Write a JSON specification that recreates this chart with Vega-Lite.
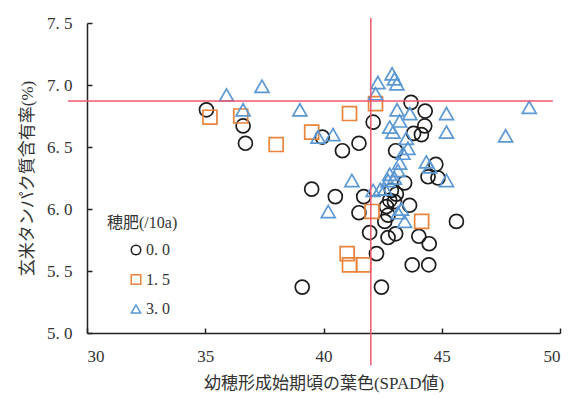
{
  "$schema": "https://vega.github.io/schema/vega-lite/v6.json",
  "width": 473,
  "height": 310,
  "autosize": {"type": "none"},
  "padding": {"left": 87, "top": 23, "right": 21, "bottom": 67},
  "background": "white",
  "config": {
    "view": {"stroke": null},
    "font": "Liberation Serif, Noto Sans CJK JP",
    "axis": {
      "grid": false,
      "domainColor": "#222222",
      "domainWidth": 1.5,
      "tickColor": "#222222",
      "tickWidth": 1.5,
      "tickSize": -5,
      "labelFont": "Liberation Serif, Noto Sans CJK JP",
      "labelFontSize": 17,
      "labelColor": "#333333",
      "titleFont": "Liberation Serif, Noto Sans CJK JP",
      "titleFontSize": 17,
      "titleFontWeight": "normal",
      "titleColor": "#333333"
    },
    "legend": {
      "titleFont": "Liberation Serif, Noto Sans CJK JP",
      "labelFont": "Liberation Serif, Noto Sans CJK JP",
      "titleFontSize": 16,
      "titleFontWeight": "normal",
      "titleColor": "#333333",
      "titlePadding": 11,
      "labelFontSize": 16,
      "labelColor": "#333333",
      "labelOffset": 2,
      "symbolOffset": 21,
      "rowPadding": 13.5,
      "symbolStrokeWidth": 1.5,
      "symbolSize": 90
    }
  },
  "layer": [
    {
      "data": {
        "values": [
          {"spad": 35.05, "protein": 6.80, "hiryo": "0.0"},
          {"spad": 36.6, "protein": 6.67, "hiryo": "0.0"},
          {"spad": 36.7, "protein": 6.53, "hiryo": "0.0"},
          {"spad": 39.95, "protein": 6.58, "hiryo": "0.0"},
          {"spad": 40.8, "protein": 6.47, "hiryo": "0.0"},
          {"spad": 41.5, "protein": 6.53, "hiryo": "0.0"},
          {"spad": 42.1, "protein": 6.70, "hiryo": "0.0"},
          {"spad": 43.7, "protein": 6.86, "hiryo": "0.0"},
          {"spad": 44.3, "protein": 6.79, "hiryo": "0.0"},
          {"spad": 44.28, "protein": 6.67, "hiryo": "0.0"},
          {"spad": 43.81, "protein": 6.61, "hiryo": "0.0"},
          {"spad": 44.14, "protein": 6.60, "hiryo": "0.0"},
          {"spad": 43.05, "protein": 6.47, "hiryo": "0.0"},
          {"spad": 44.75, "protein": 6.36, "hiryo": "0.0"},
          {"spad": 44.42, "protein": 6.26, "hiryo": "0.0"},
          {"spad": 44.84, "protein": 6.25, "hiryo": "0.0"},
          {"spad": 43.43, "protein": 6.21, "hiryo": "0.0"},
          {"spad": 39.5, "protein": 6.16, "hiryo": "0.0"},
          {"spad": 40.5, "protein": 6.10, "hiryo": "0.0"},
          {"spad": 41.7, "protein": 6.10, "hiryo": "0.0"},
          {"spad": 41.5, "protein": 5.97, "hiryo": "0.0"},
          {"spad": 42.87, "protein": 6.15, "hiryo": "0.0"},
          {"spad": 43.08, "protein": 6.12, "hiryo": "0.0"},
          {"spad": 42.8, "protein": 6.07, "hiryo": "0.0"},
          {"spad": 43.0, "protein": 6.06, "hiryo": "0.0"},
          {"spad": 42.66, "protein": 6.02, "hiryo": "0.0"},
          {"spad": 43.64, "protein": 6.03, "hiryo": "0.0"},
          {"spad": 42.73, "protein": 5.95, "hiryo": "0.0"},
          {"spad": 42.59, "protein": 5.90, "hiryo": "0.0"},
          {"spad": 45.62, "protein": 5.90, "hiryo": "0.0"},
          {"spad": 41.95, "protein": 5.81, "hiryo": "0.0"},
          {"spad": 42.73, "protein": 5.77, "hiryo": "0.0"},
          {"spad": 43.05, "protein": 5.80, "hiryo": "0.0"},
          {"spad": 44.03, "protein": 5.78, "hiryo": "0.0"},
          {"spad": 44.47, "protein": 5.72, "hiryo": "0.0"},
          {"spad": 42.24, "protein": 5.64, "hiryo": "0.0"},
          {"spad": 43.75, "protein": 5.55, "hiryo": "0.0"},
          {"spad": 44.45, "protein": 5.55, "hiryo": "0.0"},
          {"spad": 39.1, "protein": 5.37, "hiryo": "0.0"},
          {"spad": 42.45, "protein": 5.37, "hiryo": "0.0"},
          {"spad": 35.2, "protein": 6.74, "hiryo": "1.5"},
          {"spad": 36.5, "protein": 6.75, "hiryo": "1.5"},
          {"spad": 38.0, "protein": 6.52, "hiryo": "1.5"},
          {"spad": 39.5, "protein": 6.62, "hiryo": "1.5"},
          {"spad": 41.1, "protein": 6.77, "hiryo": "1.5"},
          {"spad": 42.2, "protein": 6.85, "hiryo": "1.5"},
          {"spad": 42.05, "protein": 5.98, "hiryo": "1.5"},
          {"spad": 44.15, "protein": 5.90, "hiryo": "1.5"},
          {"spad": 41.0, "protein": 5.64, "hiryo": "1.5"},
          {"spad": 41.1, "protein": 5.55, "hiryo": "1.5"},
          {"spad": 41.7, "protein": 5.55, "hiryo": "1.5"},
          {"spad": 35.9, "protein": 6.92, "hiryo": "3.0"},
          {"spad": 37.4, "protein": 6.99, "hiryo": "3.0"},
          {"spad": 36.6, "protein": 6.80, "hiryo": "3.0"},
          {"spad": 39.0, "protein": 6.80, "hiryo": "3.0"},
          {"spad": 39.77, "protein": 6.58, "hiryo": "3.0"},
          {"spad": 40.4, "protein": 6.60, "hiryo": "3.0"},
          {"spad": 42.3, "protein": 7.02, "hiryo": "3.0"},
          {"spad": 42.2, "protein": 6.93, "hiryo": "3.0"},
          {"spad": 42.9, "protein": 7.09, "hiryo": "3.0"},
          {"spad": 43.0, "protein": 7.05, "hiryo": "3.0"},
          {"spad": 43.1, "protein": 7.01, "hiryo": "3.0"},
          {"spad": 43.11, "protein": 6.80, "hiryo": "3.0"},
          {"spad": 43.65, "protein": 6.77, "hiryo": "3.0"},
          {"spad": 43.22, "protein": 6.71, "hiryo": "3.0"},
          {"spad": 42.8, "protein": 6.66, "hiryo": "3.0"},
          {"spad": 42.94, "protein": 6.62, "hiryo": "3.0"},
          {"spad": 43.5, "protein": 6.57, "hiryo": "3.0"},
          {"spad": 43.57, "protein": 6.49, "hiryo": "3.0"},
          {"spad": 43.36, "protein": 6.45, "hiryo": "3.0"},
          {"spad": 43.22, "protein": 6.37, "hiryo": "3.0"},
          {"spad": 43.15, "protein": 6.31, "hiryo": "3.0"},
          {"spad": 42.8, "protein": 6.28, "hiryo": "3.0"},
          {"spad": 42.73, "protein": 6.23, "hiryo": "3.0"},
          {"spad": 43.0, "protein": 6.25, "hiryo": "3.0"},
          {"spad": 44.35, "protein": 6.38, "hiryo": "3.0"},
          {"spad": 44.49, "protein": 6.34, "hiryo": "3.0"},
          {"spad": 45.2, "protein": 6.23, "hiryo": "3.0"},
          {"spad": 45.2, "protein": 6.77, "hiryo": "3.0"},
          {"spad": 45.2, "protein": 6.62, "hiryo": "3.0"},
          {"spad": 48.7, "protein": 6.82, "hiryo": "3.0"},
          {"spad": 47.7, "protein": 6.59, "hiryo": "3.0"},
          {"spad": 41.2, "protein": 6.23, "hiryo": "3.0"},
          {"spad": 40.2, "protein": 5.98, "hiryo": "3.0"},
          {"spad": 42.1, "protein": 6.15, "hiryo": "3.0"},
          {"spad": 42.4, "protein": 6.16, "hiryo": "3.0"},
          {"spad": 42.6, "protein": 6.16, "hiryo": "3.0"},
          {"spad": 43.3, "protein": 6.00, "hiryo": "3.0"},
          {"spad": 43.15, "protein": 5.97, "hiryo": "3.0"},
          {"spad": 43.43, "protein": 5.90, "hiryo": "3.0"}
        ]
      },
      "mark": {"type": "point", "filled": false, "size": 195, "strokeWidth": 1.7, "opacity": 1},
      "encoding": {
        "x": {
          "field": "spad",
          "type": "quantitative",
          "scale": {"domain": [30, 50], "nice": false, "zero": false},
          "axis": {
            "title": "幼穂形成始期頃の葉色(SPAD値)",
            "values": [30, 35, 40, 45, 50],
            "labelPadding": 20,
            "titlePadding": 11
          }
        },
        "y": {
          "field": "protein",
          "type": "quantitative",
          "scale": {"domain": [5, 7.5], "nice": false, "zero": false},
          "axis": {
            "title": "玄米タンパク質含有率(%)",
            "values": [5, 5.5, 6, 6.5, 7, 7.5],
            "labelExpr": "replace(format(datum.value, '.1f'), '.', '. ')",
            "labelPadding": 20,
            "titlePadding": 10
          }
        },
        "shape": {
          "field": "hiryo",
          "type": "nominal",
          "scale": {"domain": ["0.0", "1.5", "3.0"], "range": ["circle", "square", "triangle-up"]},
          "legend": {
            "title": "穂肥(/10a)",
            "orient": "none",
            "legendX": 20,
            "legendY": 192,
            "labelExpr": "replace(datum.label, '.', '. ')"
          }
        },
        "color": {
          "field": "hiryo",
          "type": "nominal",
          "scale": {"domain": ["0.0", "1.5", "3.0"], "range": ["#1c1c1c", "#e8843c", "#5b98d4"]},
          "legend": {
            "title": "穂肥(/10a)",
            "orient": "none",
            "legendX": 20,
            "legendY": 192,
            "labelExpr": "replace(datum.label, '.', '. ')"
          }
        }
      }
    },
    {
      "data": {"values": [{"x1": 29.2, "x2": 49.7, "y": 6.87}]},
      "mark": {"type": "rule", "color": "#f25470", "strokeWidth": 1.5},
      "encoding": {
        "x": {"field": "x1", "type": "quantitative"},
        "x2": {"field": "x2"},
        "y": {"field": "y", "type": "quantitative"}
      }
    },
    {
      "data": {"values": [{"x": 42.0, "y1": 4.74, "y2": 7.54}]},
      "mark": {"type": "rule", "color": "#f25470", "strokeWidth": 1.5},
      "encoding": {
        "x": {"field": "x", "type": "quantitative"},
        "y": {"field": "y1", "type": "quantitative"},
        "y2": {"field": "y2"}
      }
    }
  ]
}
